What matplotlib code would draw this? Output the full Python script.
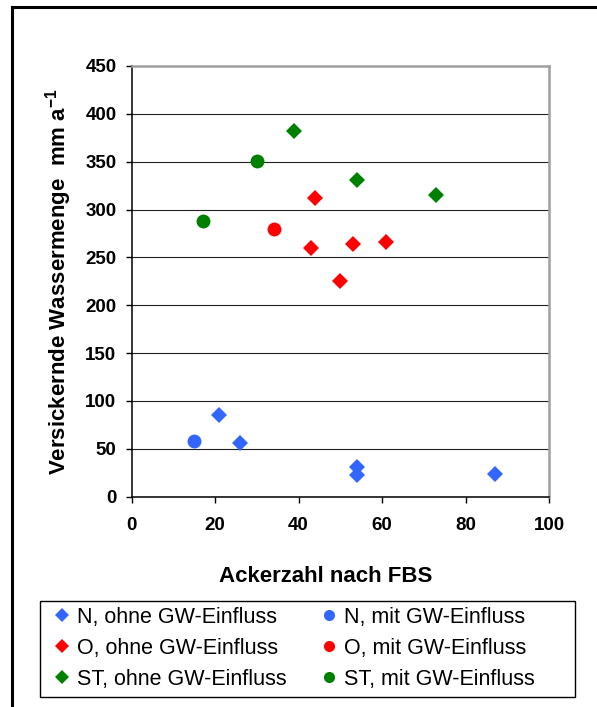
import matplotlib
matplotlib.use("Agg")
import matplotlib.pyplot as plt
from matplotlib.lines import Line2D
from matplotlib.patches import Rectangle

plt.rcParams['font.family'] = ['Liberation Sans', 'DejaVu Sans']
plt.rcParams['mathtext.fontset'] = 'custom'
plt.rcParams['mathtext.rm'] = 'Liberation Sans'
plt.rcParams['mathtext.bf'] = 'Liberation Sans:bold'

# Ackerzahl (x) und versickernde Wassermenge (y) je Gruppe
n_ohne_x = [21, 26, 54, 54, 87]
n_ohne_y = [85, 56, 31, 23, 24]
n_mit_x = [15]
n_mit_y = [58]
o_ohne_x = [44, 43, 53, 61, 50]
o_ohne_y = [312, 260, 264, 266, 225]
o_mit_x = [34]
o_mit_y = [280]
st_ohne_x = [39, 54, 73]
st_ohne_y = [382, 331, 315]
st_mit_x = [30, 17]
st_mit_y = [351, 288]

blue = '#3366FF'
red = '#FF0000'
green = '#008000'

W, H = 597, 707
fig = plt.figure(figsize=(W / 100, H / 100), dpi=100)
ax = fig.add_axes([131.7 / W, 1 - 496.7 / H, 417.3 / W, 430.7 / H])

# Rahmen um die Grafik (nur links und oben sichtbar)
fig.add_artist(Line2D([12 / W, 12 / W], [1 - 6.5 / H, 0], transform=fig.transFigure,
                      color='black', lw=2.2))
fig.add_artist(Line2D([12 / W, 1], [1 - 6.5 / H, 1 - 6.5 / H], transform=fig.transFigure,
                      color='black', lw=2.2))

ds, cs = 8.4, 10
ax.plot(n_ohne_x, n_ohne_y, 'D', color=blue, ms=ds, mew=0, label='N, ohne GW-Einfluss', zorder=3)
ax.plot(n_mit_x, n_mit_y, 'o', color=blue, ms=cs, mew=0, label='N, mit GW-Einfluss', zorder=3)
ax.plot(o_ohne_x, o_ohne_y, 'D', color=red, ms=ds, mew=0, label='O, ohne GW-Einfluss', zorder=3)
ax.plot(o_mit_x, o_mit_y, 'o', color=red, ms=cs, mew=0, label='O, mit GW-Einfluss', zorder=3)
ax.plot(st_ohne_x, st_ohne_y, 'D', color=green, ms=ds, mew=0, label='ST, ohne GW-Einfluss', zorder=3)
ax.plot(st_mit_x, st_mit_y, 'o', color=green, ms=cs, mew=0, label='ST, mit GW-Einfluss', zorder=3)

ax.set_xlim(0, 100)
ax.set_ylim(0, 450)
ax.set_xticks(range(0, 101, 20))
ax.set_yticks(range(0, 451, 50))
ax.yaxis.grid(True, color='#222222', lw=0.8)
ax.set_axisbelow(True)

for s in ['left', 'bottom']:
    ax.spines[s].set_color('black')
    ax.spines[s].set_linewidth(1.1)
for s in ['right', 'top']:
    ax.spines[s].set_color('#A0A0A0')
    ax.spines[s].set_linewidth(1.8)

ax.tick_params(axis='y', direction='out', length=4, width=1, pad=7, labelsize=13.5)
ax.tick_params(axis='x', direction='out', length=4.5, width=1, pad=10, labelsize=13.5)
for lbl in ax.get_xticklabels() + ax.get_yticklabels():
    lbl.set_fontweight('bold')

ax.set_xlabel('Ackerzahl nach FBS', fontsize=16, fontweight='bold')
ax.xaxis.set_label_coords(0.464, -0.162)
ax.set_ylabel('Versickernde Wassermenge  mm a$^{\\mathbf{-1}}$', fontsize=16, fontweight='bold')
ax.yaxis.set_label_coords(-0.138, 0.5)

# Legende in zwei Spalten, Rahmen separat gezeichnet
fig.add_artist(Rectangle((40 / W, 1 - 697 / H), 535 / W, 96 / H, transform=fig.transFigure,
                         fill=False, edgecolor='black', lw=1))
handles, labels = ax.get_legend_handles_labels()
order = [0, 2, 4, 1, 3, 5]
leg = fig.legend([handles[i] for i in order], [labels[i] for i in order],
                 ncol=2, loc='upper left', bbox_to_anchor=(53.5 / W, 1 - 607 / H),
                 fontsize=15.5, frameon=False, borderpad=0, borderaxespad=0,
                 handlelength=0.8, handletextpad=0.3, columnspacing=1.55,
                 labelspacing=0.46, markerscale=0.8)

fig.savefig('out.png', dpi=100)
